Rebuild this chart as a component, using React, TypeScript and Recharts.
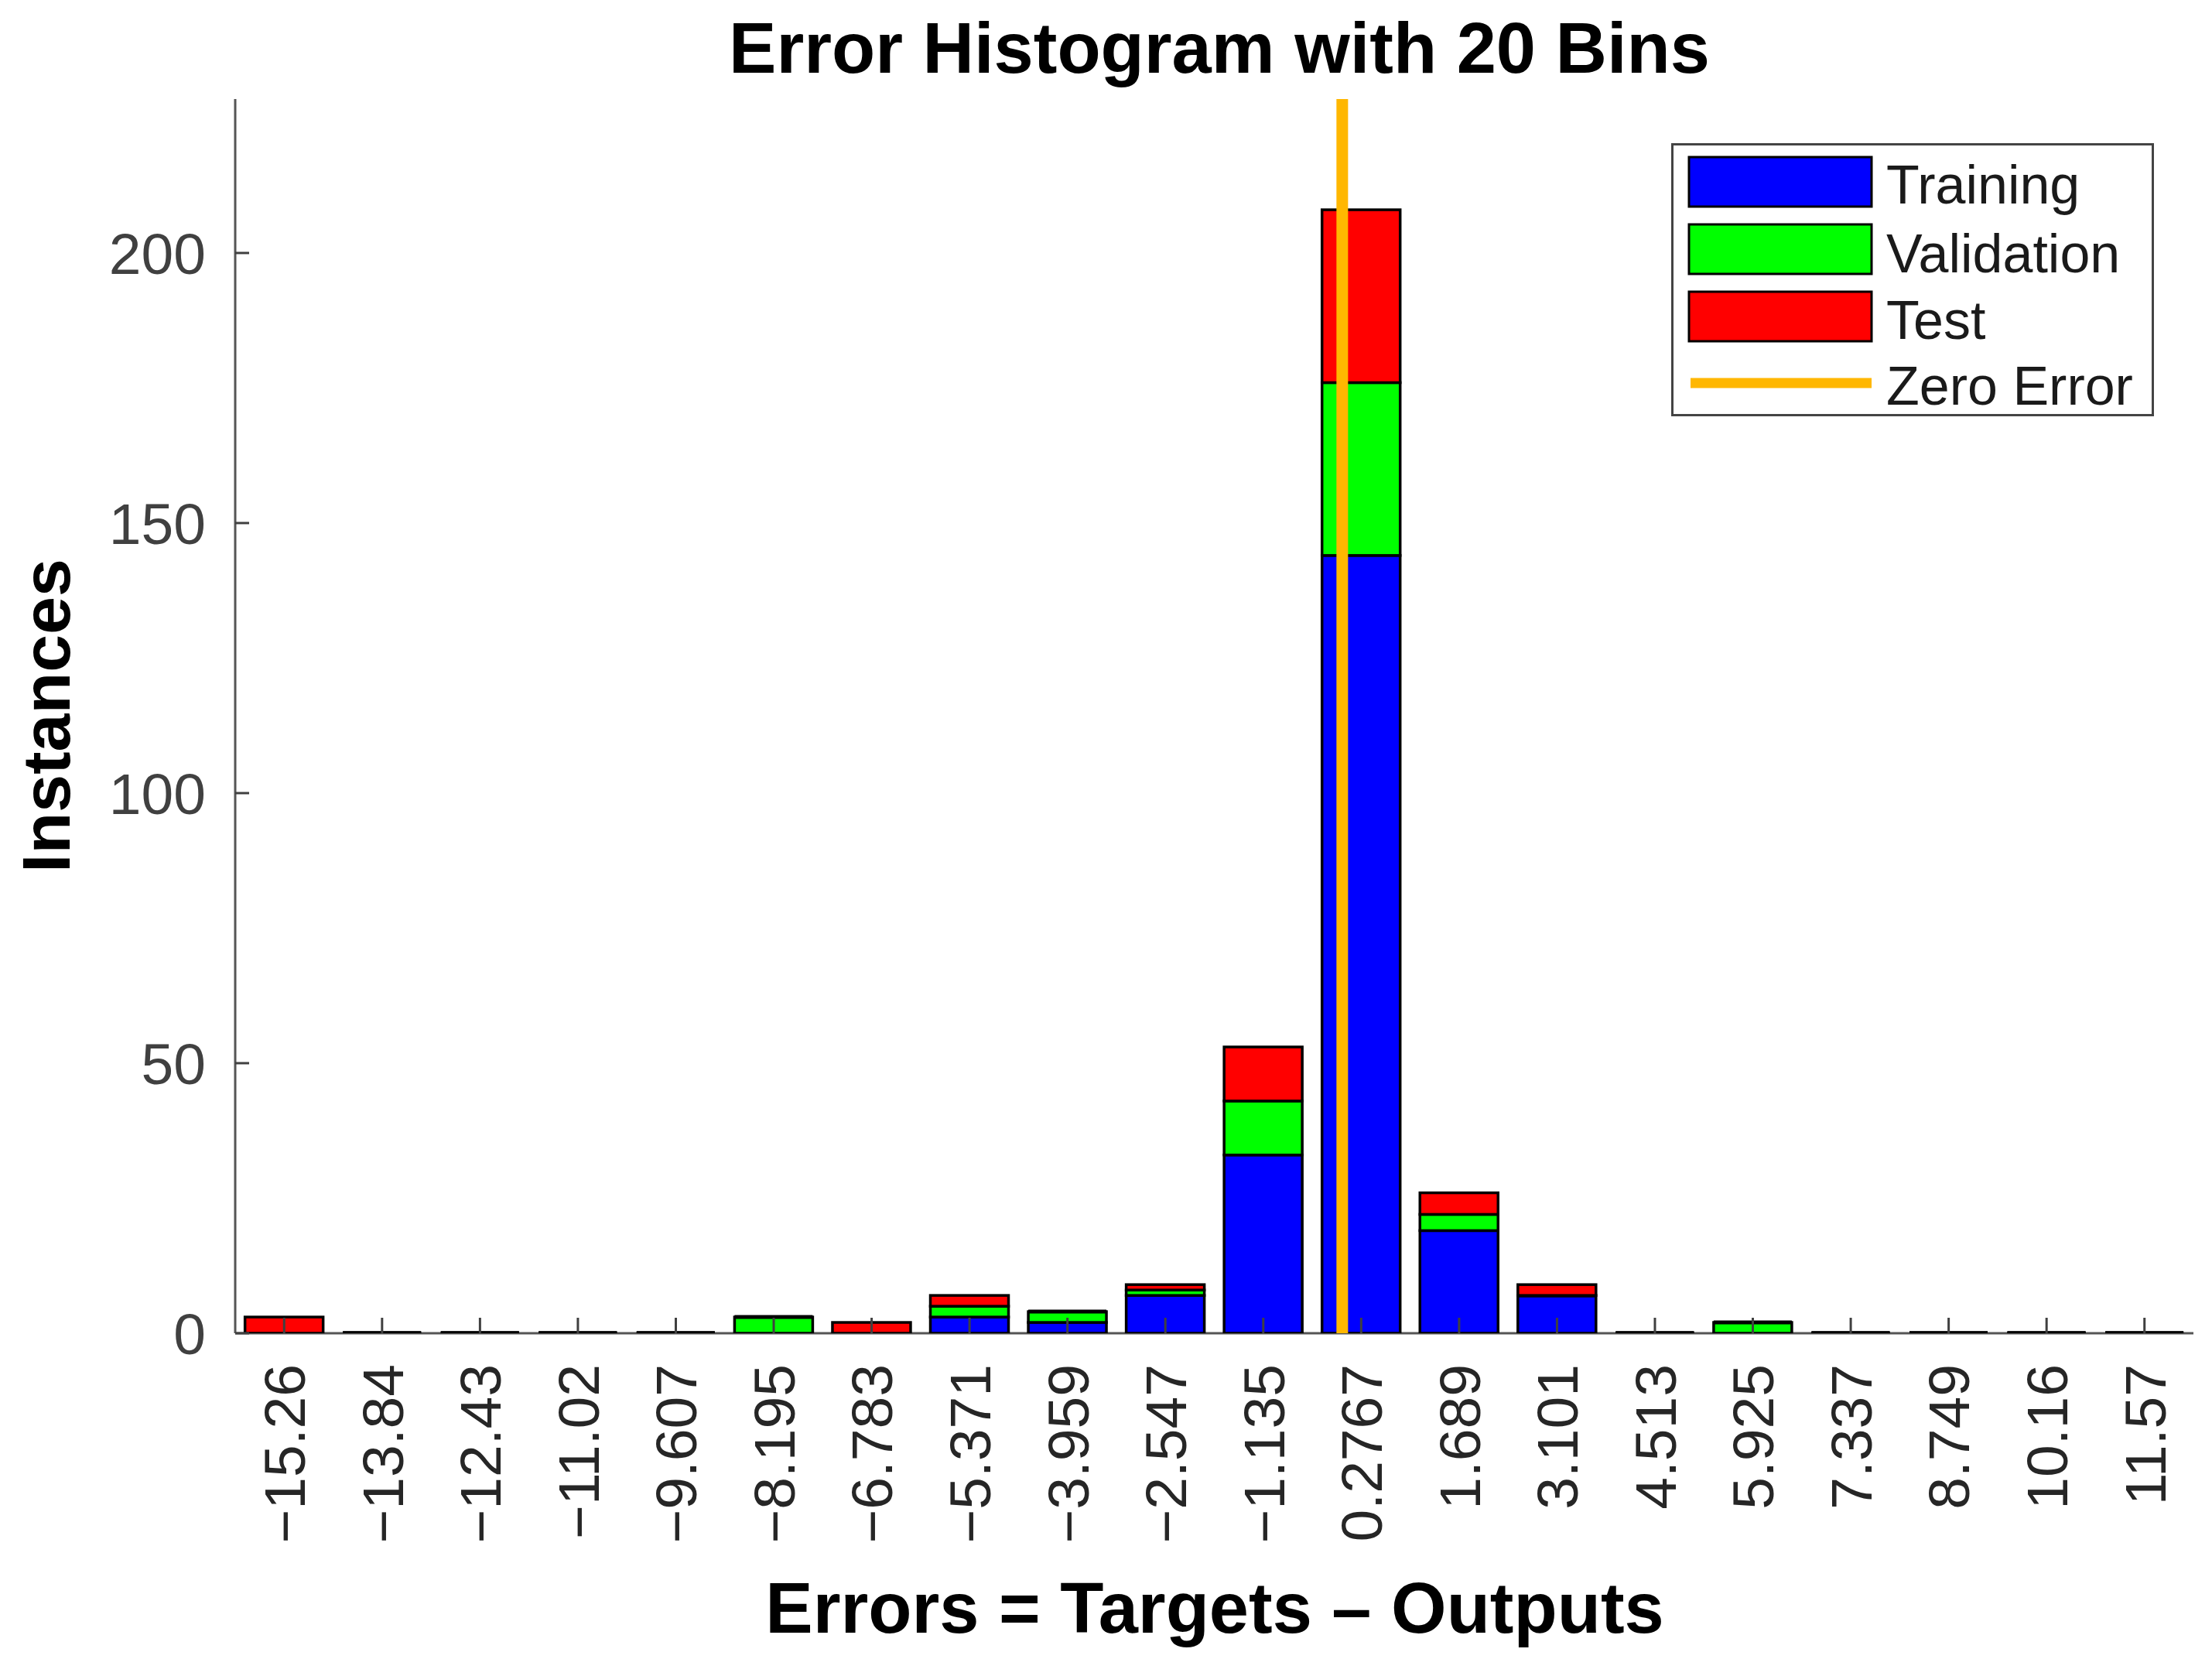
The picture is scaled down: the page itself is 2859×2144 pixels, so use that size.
import { BarChart, Bar, XAxis, YAxis, ReferenceLine, Legend, Customized } from "recharts";

// bin centres as printed under the bars
const binLabels = ['−15.26', '−13.84', '−12.43', '−11.02', '−9.607', '−8.195', '−6.783', '−5.371', '−3.959', '−2.547',
    '−1.135', '0.2767', '1.689', '3.101', '4.513', '5.925', '7.337', '8.749', '10.16', '11.57'];
const training = [0, 0, 0, 0, 0, 0, 0, 3, 2, 7, 33, 144, 19, 7, 0, 0, 0, 0, 0, 0];
const validation = [0, 0, 0, 0, 0, 3, 0, 2, 2, 1, 10, 32, 3, 0, 0, 2, 0, 0, 0, 0];
const test = [3, 0, 0, 0, 0, 0, 2, 2, 0, 1, 10, 32, 4, 2, 0, 0, 0, 0, 0, 0];
const yTicks = [0, 50, 100, 150, 200];
const zeroError = 0;

const seriesNames = ['Training', 'Validation', 'Test'];
const seriesColors = ['#0000ff', '#00ff00', '#ff0000'];

const centers = binLabels.map(l => parseFloat(l.replace('−', '-')));
const binWidth = (centers[centers.length - 1] - centers[0]) / (centers.length - 1);
const errDomain = [centers[0] - binWidth / 2, centers[centers.length - 1] + binWidth / 2];

const data = binLabels.map((bin, i) => ({
    bin,
    center: centers[i],
    training: training[i],
    validation: validation[i],
    test: test[i],
}));

const FONT = '"Liberation Sans", Arial, sans-serif';

const BinShape = (props: any) => {
    const { x, y, width, height, fill } = props;
    if (!height) {
        return <line x1={x} x2={x + width} y1={y} y2={y} stroke="#000" strokeWidth={5} />;
    }
    return <rect x={x} y={y} width={width} height={height} fill={fill} stroke="#000" strokeWidth={3.5} />;
};

const BinTick = (props: any) => {
    const { x, y, payload } = props;
    return <g>
        <line x1={x} x2={x} y1={y} y2={y - 20} stroke="#404040" strokeWidth={3} />
        <text transform={`translate(${x},${y + 40}) rotate(-90)`} textAnchor="end" dy="0.358em"
            fontSize={75} fill="#262626" fontFamily={FONT}>{payload.value}</text>
    </g>;
};

const CountTick = (props: any) => {
    const { x, y, payload } = props;
    return <g>
        <line x1={x} x2={x + 18} y1={y} y2={y} stroke="#404040" strokeWidth={3} />
        <text x={x - 38} y={y} dy="0.358em" textAnchor="end" fontSize={75} fill="#404040"
            fontFamily={FONT}>{payload.value}</text>
    </g>;
};

const LegendBox = () => {
    const rows = [18, 105, 192];
    const baselines = [78, 167, 253, 338];
    return <svg width={624} height={375} style={{ display: 'block', overflow: 'visible' }}>
        <rect x={1.5} y={1.5} width={621} height={350} fill="#fff" stroke="#444" strokeWidth={3} />
        {seriesNames.map((name, i) => (
            <g key={name}>
                <rect x={23} y={rows[i]} width={236} height={64} fill={seriesColors[i]} stroke="#000" strokeWidth={3} />
                <text x={278} y={baselines[i]} fontSize={70} fill="#1a1a1a" fontFamily={FONT}>{name}</text>
            </g>
        ))}
        <line x1={25} x2={259} y1={310} y2={310} stroke="#ffb700" strokeWidth={13} />
        <text x={278} y={baselines[3]} fontSize={70} fill="#1a1a1a" fontFamily={FONT}>Zero Error</text>
    </svg>;
};

const Labels = () => <g fontFamily={FONT} fontWeight="bold" fill="#000">
    <text x={1568} y={86} textAnchor="middle" fontSize={92}>Error Histogram with 20 Bins</text>
    <text x={1562} y={2102} textAnchor="middle" fontSize={92}>Errors = Targets – Outputs</text>
    <text transform="translate(82,917) rotate(-90)" textAnchor="middle" fontSize={88}>Instances</text>
</g>;

const App = () => {
    return <BarChart width={2843} height={2128} data={data}
        margin={{ top: 120, right: 16, left: 96, bottom: 113 }}
        barCategoryGap="10%" style={{ fontFamily: FONT }}>
        <XAxis xAxisId="bins" dataKey="bin" height={300} interval={0} zIndex={250}
            tickSize={0} tickMargin={0} tickLine={false}
            axisLine={{ stroke: '#555', strokeWidth: 3 }} tick={<BinTick />} />
        <XAxis xAxisId="err" dataKey="center" type="number" domain={errDomain}
            allowDataOverflow hide height={0} />
        <YAxis domain={[0, 228.5]} ticks={yTicks} width={200} allowDataOverflow
            tickSize={0} tickMargin={0} tickLine={false}
            axisLine={{ stroke: '#555', strokeWidth: 3 }} tick={<CountTick />} />
        <Bar xAxisId="bins" dataKey="training" name="Training" stackId="s" fill={seriesColors[0]}
            shape={<BinShape />} isAnimationActive={false} />
        <Bar xAxisId="bins" dataKey="validation" name="Validation" stackId="s" fill={seriesColors[1]}
            shape={<BinShape />} isAnimationActive={false} />
        <Bar xAxisId="bins" dataKey="test" name="Test" stackId="s" fill={seriesColors[2]}
            shape={<BinShape />} isAnimationActive={false} />
        <ReferenceLine xAxisId="err" x={zeroError} stroke="#ffb700" strokeWidth={15} />
        <Legend layout="vertical" align="center" verticalAlign="middle" content={<LegendBox />}
            wrapperStyle={{ position: 'absolute', left: 2152, top: 177, width: 624, height: 375 }} />
        <Customized component={Labels} />
    </BarChart>;
};

export default App;
